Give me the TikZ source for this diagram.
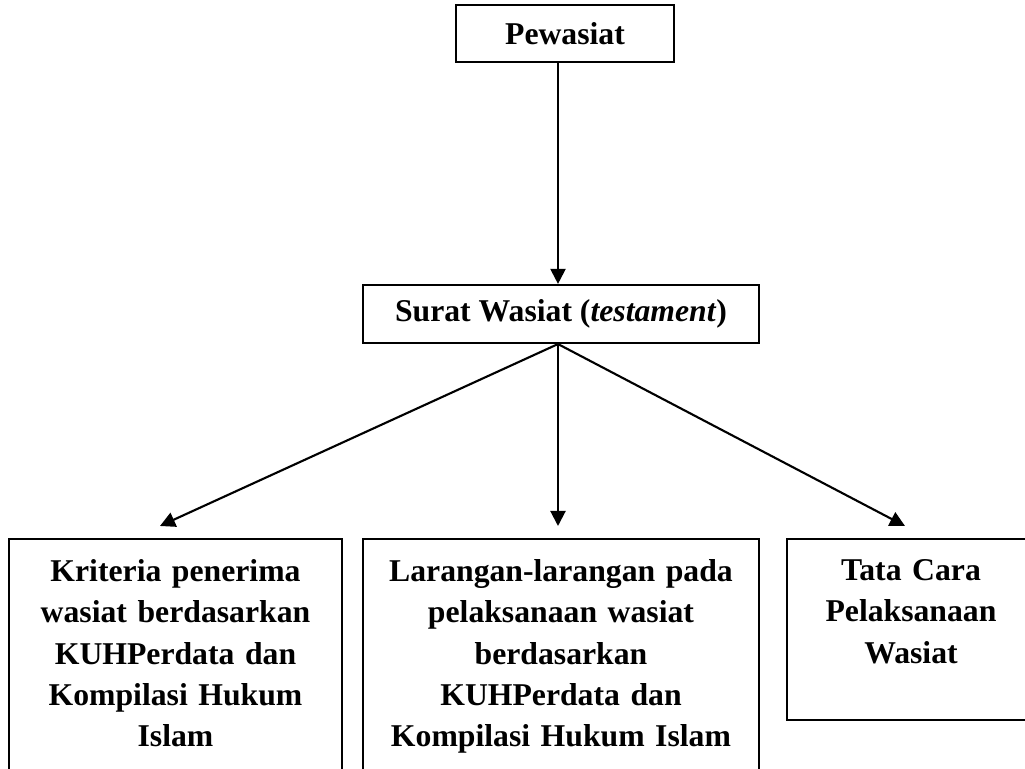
\documentclass[tikz,border=0pt]{standalone}
\usepackage{fontspec}
\setmainfont{Liberation Serif}
\usetikzlibrary{arrows.meta}
\def\u{0.3785pt}
\tikzset{
  box/.style = {draw, line width = 0.8pt, inner sep = 0pt, align = center,
    font = \bfseries\fontsize{12}{15.7}\selectfont},
  tallbox/.style = {box, anchor = north, inner ysep = 20*\u},
  arr/.style = {-{Triangle[length = 5.7pt, width = 5.7pt]}, line width = 0.8pt}
}
\begin{document}
\begin{tikzpicture}[x = \u, y = -\u]
\useasboundingbox (0,0) rectangle (1025,769);
\clip (0,0) rectangle (1025,769);
\node[box, minimum width = 218*\u, minimum height = 57*\u] (pewasiat) at (565,33.5) {Pewasiat};
\node[box, minimum width = 396*\u, minimum height = 58*\u] (surat) at (561,314) {Surat Wasiat (\textit{testament})};
\node[tallbox, text width = 333*\u, text depth = 240*\u] (kriteria) at (175.5,538)
  {Kriteria penerima\\ wasiat berdasarkan\\ KUHPerdata dan\\ Kompilasi Hukum\\ Islam};
\node[tallbox, text width = 396*\u, text depth = 240*\u] (larangan) at (561,538)
  {Larangan-larangan pada\\ pelaksanaan wasiat\\ berdasarkan\\ KUHPerdata dan\\ Kompilasi Hukum Islam};
\node[tallbox, text width = 248*\u, text depth = 120*\u] (tatacara) at (911,538)
  {Tata Cara\\ Pelaksanaan\\ Wasiat};
% arrow tips stop short of the boxes
\coordinate (tipA) at (160,526);
\coordinate (tipB) at (558,526);
\coordinate (tipC) at (905,526);
\draw[arr] ([xshift = -7*\u]pewasiat.south) -- ([xshift = -3*\u]surat.north);
\foreach \t in {tipA,tipB,tipC} \draw[arr] ([xshift = -3*\u]surat.south) -- (\t);
\end{tikzpicture}
\end{document}
